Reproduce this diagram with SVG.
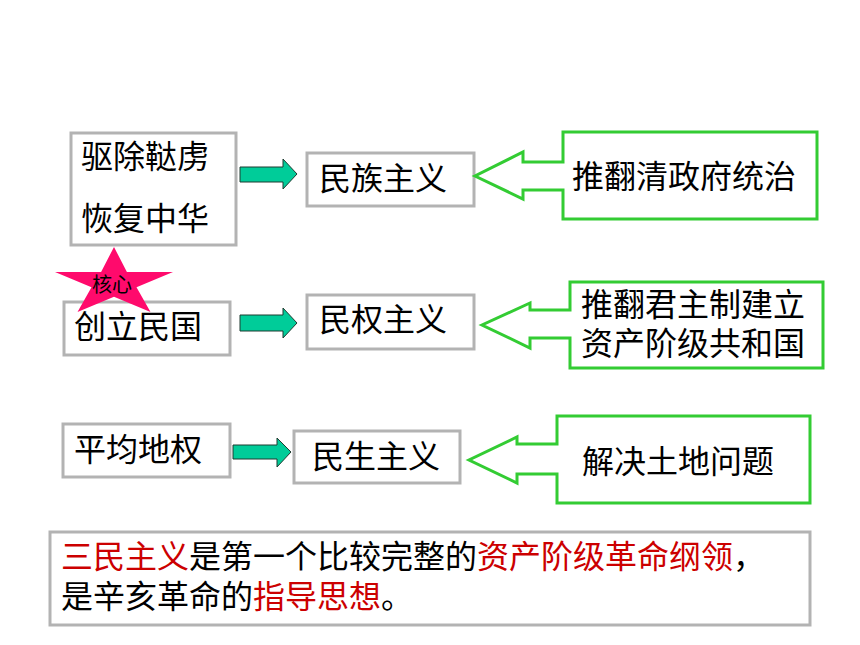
<svg xmlns="http://www.w3.org/2000/svg" width="860" height="645" viewBox="0 0 860 645">
<style>
.box{fill:#ffffff;stroke:#b3b3b3;stroke-width:3}
.callout{fill:#ffffff;stroke:#33cc33;stroke-width:3;stroke-linejoin:miter}
.t{font-family:"Noto Sans CJK SC","Liberation Sans",sans-serif;font-size:32px;fill:#000000}
.red{fill:#cc0000}
.arrow{fill:#00cc99;stroke:#1f3b30;stroke-width:1}
.star{fill:#ff0a6c}
.small{font-family:"Noto Sans CJK SC","Liberation Sans",sans-serif;font-size:20px;fill:#000000}
</style>
<rect width="860" height="645" fill="#ffffff"/>

<g id="node-quchu">
<rect class="box" x="71" y="133" width="165" height="112"/>
<text class="t" x="81" y="168">驱除鞑虏</text>
<text class="t" x="81" y="230">恢复中华</text>
</g>

<g id="node-minzu">
<rect class="box" x="307" y="153" width="167" height="53"/>
<text class="t" x="319" y="190">民族主义</text>
</g>

<g id="node-minzu-goal">
<path class="callout" d="M563,132 H817 V219 H563 V190 H523 V199 L475,176 L523,152 V162 H563 Z"/>
<text class="t" x="572" y="188">推翻清政府统治</text>
</g>

<g id="node-chuangli">
<rect class="box" x="64" y="302" width="166" height="53"/>
<polygon class="star" points="114,247 126.9,271.9 173,271.9 136.5,287.2 150.5,312 114,296.8 77.5,312 91.5,287.2 55,271.9 101.1,271.9"/>
<text class="small" x="92" y="292">核心</text>
<text class="t" x="74" y="338">创立民国</text>
</g>

<g id="node-minquan">
<rect class="box" x="307" y="295" width="167" height="54"/>
<text class="t" x="319" y="331">民权主义</text>
</g>

<g id="node-minquan-goal">
<path class="callout" d="M570,282 H823 V368 H570 V338 H530 V348 L482,325 L530,303 V310 H570 Z"/>
<text class="t" x="581" y="316">推翻君主制建立</text>
<text class="t" x="581" y="355">资产阶级共和国</text>
</g>

<g id="node-pingjun">
<rect class="box" x="63" y="424" width="167" height="53"/>
<text class="t" x="74" y="461">平均地权</text>
</g>

<g id="node-minsheng">
<rect class="box" x="294" y="431" width="166" height="52"/>
<text class="t" x="312" y="468">民生主义</text>
</g>

<g id="node-minsheng-goal">
<path class="callout" d="M557,416 H810 V503 H557 V474 H517 V483 L469,460 L517,437 V444 H557 Z"/>
<text class="t" x="582" y="473">解决土地问题</text>
</g>

<g id="node-summary">
<rect class="box" x="50" y="532" width="760" height="93"/>
<text class="t red" x="61" y="568">三民主义</text>
<text class="t" x="189" y="568">是第一个比较完整的</text>
<text class="t red" x="477" y="568">资产阶级革命纲领</text>
<text class="t" x="733" y="568">，</text>
<text class="t" x="61" y="608">是辛亥革命的</text>
<text class="t red" x="253" y="608">指导思想</text>
<text class="t" x="381" y="608">。</text>
</g>

<g id="connectors">
<polygon class="arrow" points="240,167 283,167 283,159 297,174 283,189 283,182 240,182"/>
<polygon class="arrow" points="240,315 283,315 283,308 297,323 283,338 283,331 240,331"/>
<polygon class="arrow" points="233,445 277,445 277,438 291,452 277,467 277,459 233,459"/>
</g>
</svg>
